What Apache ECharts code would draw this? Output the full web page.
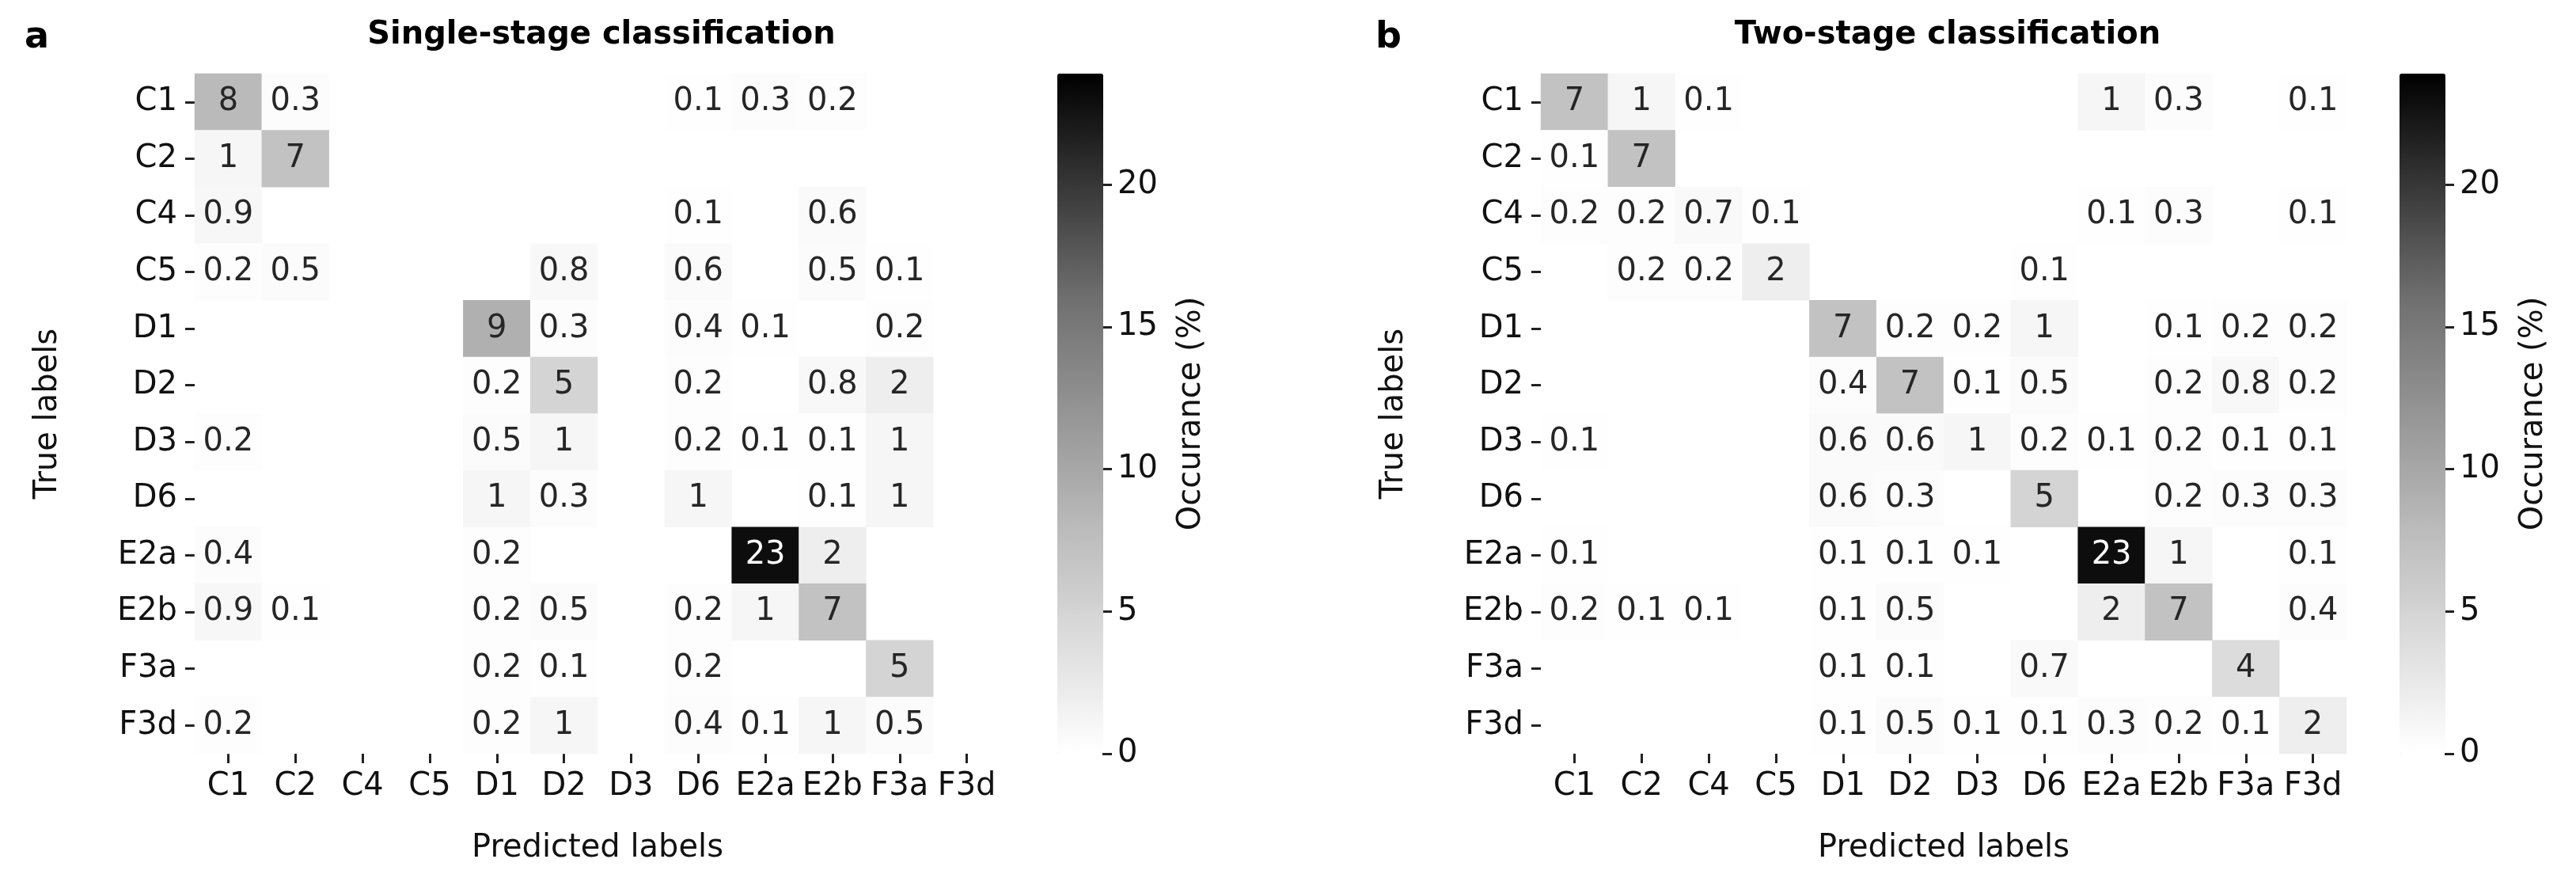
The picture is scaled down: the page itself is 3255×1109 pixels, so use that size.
<!DOCTYPE html>
<html>
<head>
<meta charset="utf-8">
<script src="https://cdn.jsdelivr.net/npm/echarts@6/dist/echarts.min.js"></script>
<style>
  html, body { margin: 0; padding: 0; background: #fff; }
  #chart { width: 3255px; height: 1109px; }
</style>
</head>
<body>
<div id="chart"></div>
<script>
  var labels = ["C1", "C2", "C4", "C5", "D1", "D2", "D3", "D6", "E2a", "E2b", "F3a", "F3d"];

  // rows = true labels, cols = predicted labels (0 = empty cell)
  var singleStage = [
    [8, 0.3, 0, 0, 0, 0, 0, 0.1, 0.3, 0.2, 0, 0],
    [1, 7, 0, 0, 0, 0, 0, 0, 0, 0, 0, 0],
    [0.9, 0, 0, 0, 0, 0, 0, 0.1, 0, 0.6, 0, 0],
    [0.2, 0.5, 0, 0, 0, 0.8, 0, 0.6, 0, 0.5, 0.1, 0],
    [0, 0, 0, 0, 9, 0.3, 0, 0.4, 0.1, 0, 0.2, 0],
    [0, 0, 0, 0, 0.2, 5, 0, 0.2, 0, 0.8, 2, 0],
    [0.2, 0, 0, 0, 0.5, 1, 0, 0.2, 0.1, 0.1, 1, 0],
    [0, 0, 0, 0, 1, 0.3, 0, 1, 0, 0.1, 1, 0],
    [0.4, 0, 0, 0, 0.2, 0, 0, 0, 23, 2, 0, 0],
    [0.9, 0.1, 0, 0, 0.2, 0.5, 0, 0.2, 1, 7, 0, 0],
    [0, 0, 0, 0, 0.2, 0.1, 0, 0.2, 0, 0, 5, 0],
    [0.2, 0, 0, 0, 0.2, 1, 0, 0.4, 0.1, 1, 0.5, 0]
  ];

  var twoStage = [
    [7, 1, 0.1, 0, 0, 0, 0, 0, 1, 0.3, 0, 0.1],
    [0.1, 7, 0, 0, 0, 0, 0, 0, 0, 0, 0, 0],
    [0.2, 0.2, 0.7, 0.1, 0, 0, 0, 0, 0.1, 0.3, 0, 0.1],
    [0, 0.2, 0.2, 2, 0, 0, 0, 0.1, 0, 0, 0, 0],
    [0, 0, 0, 0, 7, 0.2, 0.2, 1, 0, 0.1, 0.2, 0.2],
    [0, 0, 0, 0, 0.4, 7, 0.1, 0.5, 0, 0.2, 0.8, 0.2],
    [0.1, 0, 0, 0, 0.6, 0.6, 1, 0.2, 0.1, 0.2, 0.1, 0.1],
    [0, 0, 0, 0, 0.6, 0.3, 0, 5, 0, 0.2, 0.3, 0.3],
    [0.1, 0, 0, 0, 0.1, 0.1, 0.1, 0, 23, 1, 0, 0.1],
    [0.2, 0.1, 0.1, 0, 0.1, 0.5, 0, 0, 2, 7, 0, 0.4],
    [0, 0, 0, 0, 0.1, 0.1, 0, 0.7, 0, 0, 4, 0],
    [0, 0, 0, 0, 0.1, 0.5, 0.1, 0.1, 0.3, 0.2, 0.1, 2]
  ];

  var colorMax = 23.9;
  var font = "DejaVu Sans";
  var fs = 40;

  function toCells(matrix) {
    var out = [];
    for (var r = 0; r < matrix.length; r++) {
      for (var c = 0; c < matrix[r].length; c++) {
        var v = matrix[r][c];
        if (!v) continue;
        out.push({
          value: [c, r, v],
          label: { color: v > 12 ? "#fff" : "#262626" }
        });
      }
    }
    return out;
  }

  function tick(align) {
    return { show: true, length: 12, alignWithLabel: align, lineStyle: { color: "#222", width: 3 } };
  }
  function txt(size) {
    return { fontFamily: font, fontSize: size, color: "#111" };
  }

  var panels = [
    { left: 246, bar: 1336, title: "Single-stage classification", letter: "a", letterX: 26, data: singleStage },
    { left: 1947, bar: 3032, title: "Two-stage classification", letter: "b", letterX: 1733, data: twoStage }
  ];
  var gTop = 93, gw = 1018, gh = 859, bw = 58;

  var grid = [], xAxis = [], yAxis = [], series = [], visualMap = [], title = [];
  panels.forEach(function(p, i) {
    grid.push({ left: p.left, top: gTop, width: gw, height: gh });
    // thin grid on the right edge of the colour bar, carries its ticks
    grid.push({ left: p.bar + bw - 1, top: gTop, width: 1, height: gh });
    xAxis.push({
      type: "category", gridIndex: 2 * i, data: labels,
      name: "Predicted labels", nameLocation: "middle", nameGap: 100,
      nameTextStyle: txt(fs),
      axisLine: { show: false }, axisTick: tick(true),
      axisLabel: Object.assign(txt(fs), { margin: 22, interval: 0 }),
      splitLine: { show: false }
    });
    yAxis.push({
      type: "category", gridIndex: 2 * i, data: labels, inverse: true,
      name: "True labels", nameLocation: "middle", nameGap: 165,
      nameTextStyle: txt(fs),
      axisLine: { show: false }, axisTick: tick(true),
      axisLabel: Object.assign(txt(fs), { margin: 22, interval: 0 }),
      splitLine: { show: false }
    });
    xAxis.push({ type: "value", gridIndex: 2 * i + 1, min: 0, max: 1, show: false });
    yAxis.push({
      type: "value", gridIndex: 2 * i + 1, position: "right", min: 0, max: colorMax, interval: 5,
      name: "Occurance (%)", nameLocation: "middle", nameGap: 92, nameRotate: 90,
      nameTextStyle: txt(fs),
      axisLine: { show: false }, axisTick: tick(false), splitLine: { show: false },
      axisLabel: Object.assign(txt(fs), { margin: 18, showMaxLabel: false })
    });
    series.push({
      type: "heatmap", xAxisIndex: 2 * i, yAxisIndex: 2 * i, data: toCells(p.data),
      label: { show: true, fontFamily: font, fontSize: fs }
    });
    visualMap.push({
      type: "continuous", seriesIndex: i, min: 0, max: colorMax, calculable: false,
      orient: "vertical", left: p.bar, top: gTop, itemWidth: bw, itemHeight: gh,
      padding: 0, showLabel: false, z: 1,
      inRange: { color: ["#ffffff", "#bababa", "#707070", "#000000"] }
    });
    title.push({
      text: p.title, left: p.left + gw / 2, top: 20, textAlign: "center",
      textStyle: { fontFamily: font, fontSize: 40, fontWeight: "bold", color: "#000" }
    });
    title.push({
      text: p.letter, left: p.letterX, top: 20,
      textStyle: { fontFamily: font, fontSize: 46, fontWeight: "bold", color: "#000" }
    });
  });

  var chart = echarts.init(document.getElementById("chart"));
  chart.setOption({
    animation: false,
    backgroundColor: "#fff",
    title: title, grid: grid, xAxis: xAxis, yAxis: yAxis,
    visualMap: visualMap, series: series
  });
</script>
</body>
</html>
